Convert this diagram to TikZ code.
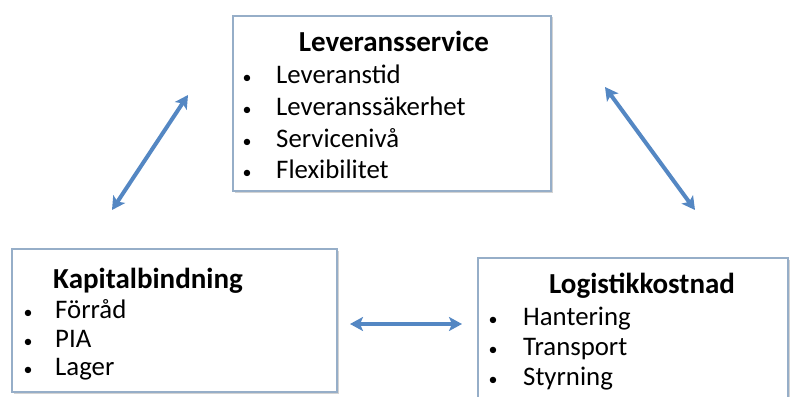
\documentclass[tikz,border=0pt]{standalone}
\usepackage{fontspec}
\setmainfont{Carlito}
\usetikzlibrary{arrows.meta,shadows}

\definecolor{boxline}{RGB}{150,174,200}
\definecolor{arrowblue}{RGB}{84,135,195}

\tikzset{
  areabox/.style={draw=boxline, line width=2.5pt, fill=white, inner sep=0pt,
    drop shadow={shadow xshift=1.5pt, shadow yshift=-1.5pt, opacity=0.35, fill=gray}},
  boxtitle/.style={anchor=base, inner sep=0pt, font=\fontsize{29}{32}\selectfont\bfseries},
  boxitem/.style={anchor=base west, inner sep=0pt, font=\fontsize{26.8}{30}\selectfont},
  bulletmark/.style={anchor=base, inner sep=0pt, font=\fontsize{18}{20}\selectfont},
  relation/.style={arrowblue, line width=4pt,
    {Stealth[length=13pt,width=14pt,inset=3pt]}-{Stealth[length=13pt,width=14pt,inset=3pt]}}
}

\begin{document}
\begin{tikzpicture}[x=1pt,y=-1pt]
  \useasboundingbox (0,0) rectangle (794,396);
  \clip (0,0) rectangle (794,396);

  % Top: delivery service
  \node[areabox, minimum width=318pt, minimum height=175pt] (service) at (392,103.5) {};
  \node[boxtitle] (serviceT) at (394,52) {Leveransservice};
  \node[bulletmark] at (247,83) {\textbullet};
  \node[boxitem] (s1) at (276,83) {Leveranstid};
  \node[bulletmark] at (247,115) {\textbullet};
  \node[boxitem] (s2) at (276,115) {Leveranssäkerhet};
  \node[bulletmark] at (247,147) {\textbullet};
  \node[boxitem] (s3) at (276,147) {Servicenivå};
  \node[bulletmark] at (247,178) {\textbullet};
  \node[boxitem] (s4) at (276,178) {Flexibilitet};

  % Left: tied-up capital
  \node[areabox, minimum width=325pt, minimum height=143pt] (capital) at (174.5,320.5) {};
  \node[boxtitle] (capitalT) at (148,288) {Kapitalbindning};
  \node[bulletmark] at (28,318) {\textbullet};
  \node[boxitem] (c1) at (55,318) {Förråd};
  \node[bulletmark] at (28,347) {\textbullet};
  \node[boxitem] (c2) at (55,347) {PIA};
  \node[bulletmark] at (28,375) {\textbullet};
  \node[boxitem] (c3) at (55,375) {Lager};

  % Right: logistics cost (cut at the lower edge)
  \node[areabox, minimum width=310pt, minimum height=152pt] (cost) at (633,334) {};
  \node[boxtitle] (costT) at (642,293) {Logistikkostnad};
  \node[bulletmark] at (493,325) {\textbullet};
  \node[boxitem] (k1) at (523,325) {Hantering};
  \node[bulletmark] at (493,355) {\textbullet};
  \node[boxitem] (k2) at (523,355) {Transport};
  \node[bulletmark] at (493,385) {\textbullet};
  \node[boxitem] (k3) at (523,385) {Styrning};

  % arrow ends
  \coordinate (capUp) at (112,210);
  \coordinate (serLeft) at (188,95);
  \coordinate (serRight) at (605,87);
  \coordinate (costUp) at (695,210);
  \coordinate (capRight) at (350,324);
  \coordinate (costLeft) at (462,324);

  \draw[relation] (capUp) -- (serLeft);
  \draw[relation] (serRight) -- (costUp);
  \draw[relation] (capRight) -- (costLeft);
\end{tikzpicture}
\end{document}
